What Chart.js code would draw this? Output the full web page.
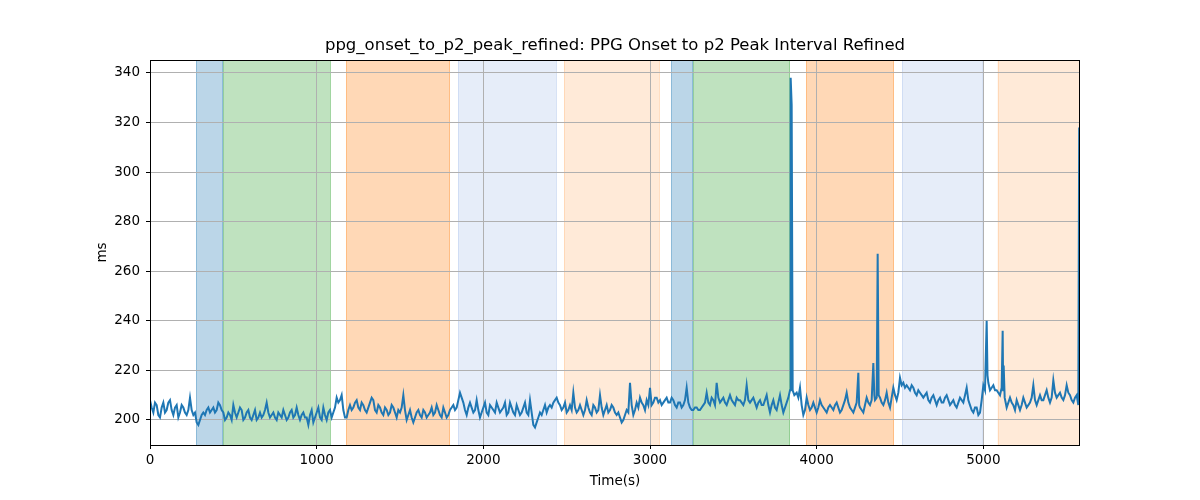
<!DOCTYPE html>
<html>
<head>
<meta charset="utf-8">
<script src="https://cdn.jsdelivr.net/npm/chart.js@4/dist/chart.umd.min.js"></script>
<style>
html,body{margin:0;padding:0;background:#fff;}
#wrap{width:1200px;height:500px;}
</style>
</head>
<body>
<div id="wrap"><canvas id="c" width="1200" height="500"></canvas></div>
<script>
// ---- data ----
const chartTitle = "ppg_onset_to_p2_peak_refined: PPG Onset to p2 Peak Interval Refined";
const xLabel = "Time(s)";
const yLabel = "ms";
const xTicks = [0, 1000, 2000, 3000, 4000, 5000];
const yTicks = [200, 220, 240, 260, 280, 300, 320, 340];

// [time (s), interval (ms)]
const samples = [
[0,208],[10,205],[20,203],[30,207],[40,206],[50,202],[60,201],[70,205],[80,207],[90,203],[100,204],[110,207],[120,208],[130,204],[140,202],[150,205],[160,206],[170,201],[180,203],[190,206],[200,205],[210,203],[220,202],[230,204],[240,209],[250,204],[260,202],[270,203],[280,199],[290,198],[300,200],
[310,202],[320,203],[330,202],[340,204],[350,205],[360,203],[370,204],[380,205],[390,203],[400,204],[410,207],[420,206],[430,204],[440,203],
[450,200],[460,201],[470,203],[480,202],[490,200],[500,206],[510,203],[520,201],[530,203],[540,205],[550,204],[560,200],[570,201],[580,203],[590,204],[600,201],[610,200],[620,202],[630,204],[640,200],[650,201],[660,203],[670,201],[680,202],[690,204],[700,207],[710,203],[720,201],[730,202],[740,203],[750,201],[760,200],[770,203],[780,202],[790,201],[800,204],[810,202],[820,200],[830,201],[840,203],[850,204],[860,201],[870,202],[880,205],[890,202],[900,200],[910,202],[920,203],[930,201],[940,201],[950,198],
[960,202],[970,204],[980,199],[990,201],[1000,203],[1010,205],[1020,201],[1030,200],[1040,205],[1050,202],[1060,200],[1070,203],[1080,204],[1090,201],[1100,203],[1110,205],[1120,209],[1130,207],[1140,208],[1150,210],[1160,204],[1170,201],[1180,201],[1190,204],[1200,206],[1210,204],[1220,205],[1230,207],[1240,208],[1250,205],[1260,204],[1270,207],[1280,206],[1290,204],[1300,203],[1310,205],[1320,207],[1330,209],[1340,208],[1350,204],[1360,203],[1370,206],[1380,205],[1390,203],[1400,202],[1410,205],[1420,204],[1430,202],[1440,203],[1450,206],[1460,205],[1470,203],[1480,201],[1490,204],[1500,203],[1510,205],[1520,210],[1530,204],[1540,200],[1550,202],[1560,204],[1570,201],[1580,199],[1590,201],[1600,203],[1610,204],[1620,202],[1630,201],[1640,204],[1650,203],[1660,201],[1670,202],[1680,203],[1690,205],[1700,202],[1710,203],[1720,206],[1730,204],[1740,202],[1750,201],[1760,205],[1770,203],[1780,201],[1790,202],[1800,204],[1810,205],[1820,206],[1830,204],[1840,205],[1850,208],[1860,211],[1870,209],[1880,207],[1890,204],
[1900,202],[1910,205],[1920,207],[1930,205],[1940,203],[1950,204],[1960,208],[1970,204],[1980,201],[1990,203],[2000,205],[2010,207],[2020,203],[2030,202],[2040,206],[2050,205],[2060,204],[2070,203],[2080,207],[2090,205],[2100,203],[2110,204],[2120,205],[2130,207],[2140,202],[2150,203],[2160,207],[2170,205],[2180,203],[2190,202],[2200,206],[2210,204],[2220,202],[2230,203],[2240,205],[2250,207],[2260,203],[2270,202],[2280,208],[2290,203],[2300,198],[2310,197],[2320,199],[2330,201],[2340,203],[2350,202],[2360,204],[2370,206],[2380,203],[2390,205],[2400,206],[2410,205],[2420,207],[2430,208],[2440,209],[2450,207],[2460,206],[2470,204],[2480,205],[2490,207],[2500,203],[2510,204],[2520,206],[2530,204],[2540,211],[2550,205],[2560,203],[2570,204],[2580,206],[2590,204],[2600,202],[2610,204],[2620,208],[2630,205],[2640,203],[2650,202],[2660,206],[2670,205],[2680,203],[2690,204],[2700,210],[2710,205],[2720,202],[2730,204],[2740,206],[2750,203],[2760,204],[2770,206],[2780,205],[2790,203],[2800,202],[2810,203],[2820,201],
[2830,199],[2840,200],[2850,202],[2860,204],[2870,203],[2880,215],[2890,206],[2900,202],[2910,204],[2920,207],[2930,205],[2940,209],[2950,207],[2960,206],[2970,204],[2980,208],[2990,206],[3000,213],[3010,206],[3020,207],[3030,209],[3040,209],[3050,207],[3060,208],[3070,206],[3080,207],[3090,208],[3100,209],[3110,207],[3120,207],[3130,209],[3140,208],[3150,206],[3160,205],[3170,207],[3180,207],[3190,205],[3200,206],[3210,208],[3220,213],[3230,207],[3240,205],[3250,204],[3260,204],[3270,205],[3280,205],[3290,204],[3300,204],[3310,205],[3320,206],[3330,207],[3340,211],[3350,207],[3360,206],[3370,209],[3380,208],[3390,206],[3400,215],[3410,209],[3420,207],[3430,208],[3440,209],[3450,207],[3460,206],[3470,208],[3480,210],[3490,208],[3500,207],[3510,206],[3520,209],[3530,208],[3540,208],[3550,207],[3560,206],[3570,208],[3580,214],[3590,208],[3600,207],[3610,208],[3620,209],[3630,207],[3640,205],[3650,207],[3660,208],[3670,206],[3680,206],[3690,208],[3700,210],[3710,206],[3720,203],[3730,206],[3740,208],[3750,205],[3760,204],[3770,207],[3780,210],[3790,206],[3800,203],[3810,205],
[3820,207],[3830,209],[3840,212],[3844,338],[3850,327],[3856,212],[3866,210],[3880,211],[3890,209],[3900,213],[3910,206],[3920,202],[3930,204],[3940,209],[3950,206],[3960,204],[3970,205],[3980,207],[3990,205],[4000,203],[4010,205],[4020,208],[4030,206],[4040,205],[4050,204],[4060,203],[4070,205],[4080,206],[4090,205],[4100,204],[4110,206],[4120,207],[4130,205],[4140,203],[4150,204],[4160,206],[4170,208],[4180,211],[4190,207],[4200,205],[4210,204],[4220,203],[4230,205],[4240,207],[4250,219],[4255,206],[4260,205],[4270,204],[4280,203],[4290,206],[4300,209],[4310,207],[4320,206],[4330,208],[4340,223],[4346,210],[4350,208],[4360,209],[4366,267],[4372,210],[4380,209],[4390,207],[4400,206],[4410,208],[4420,211],[4430,207],[4440,205],[4450,209],[4460,213],[4470,210],[4480,208],[4490,211],[4500,217],[4510,214],[4520,215],[4530,213],[4540,214],[4550,213],[4560,212],[4570,214],[4580,213],[4590,211],[4600,210],[4610,212],[4620,211],[4630,210],
[4640,209],[4650,210],[4660,211],[4670,208],[4680,207],[4690,209],[4700,210],[4710,208],[4720,206],[4730,208],[4740,209],[4750,207],[4760,207],[4770,209],[4780,210],[4790,208],[4800,206],[4810,207],[4820,208],[4830,206],[4840,205],[4850,207],[4860,209],[4870,208],[4880,207],[4890,210],[4900,213],[4910,208],[4920,206],[4930,204],[4940,203],[4950,205],[4960,205],[4970,202],[4980,203],[4990,208],[5000,214],[5010,212],[5020,240],[5025,218],[5030,215],[5040,212],[5050,213],[5060,214],[5070,212],[5080,212],[5090,211],[5100,210],[5110,213],[5116,236],[5119,212],[5122,222],[5128,209],[5140,205],[5150,207],[5160,209],[5170,207],[5180,206],[5190,204],[5200,208],[5210,206],[5220,204],[5230,206],[5240,209],[5250,207],[5260,205],[5270,206],[5280,207],[5290,209],[5300,214],[5310,208],[5320,206],[5330,208],[5340,210],[5350,208],[5360,208],[5370,210],[5380,212],[5390,209],[5400,207],[5410,209],[5420,216],[5430,211],[5440,209],[5450,210],[5460,211],[5470,209],[5480,208],[5490,210],[5500,214],[5510,211],[5520,210],[5530,208],[5540,207],[5550,209],[5560,210],[5570,206],[5575,318]
];

// shaded phases
const spanStart = [276, 440, 1176, 1848, 2484, 3126, 3260, 3936, 4512, 5086];
const spanEnd   = [440, 1084, 1800, 2440, 3058, 3260, 3840, 4464, 4996, 5580];
const spanColor = [
  "rgba(31,119,180,0.3)", "rgba(44,160,44,0.3)", "rgba(255,127,14,0.3)", "rgba(31,90,200,0.11)", "rgba(255,127,14,0.16)",
  "rgba(31,119,180,0.3)", "rgba(44,160,44,0.3)", "rgba(255,127,14,0.3)", "rgba(31,90,200,0.11)", "rgba(255,127,14,0.16)"
];

const points = samples.map(s => ({x: s[0], y: s[1]}));
const FONT = "'DejaVu Sans', sans-serif";

const spanPlugin = {
  id: 'spans',
  beforeDraw(chart) {
    const {ctx, chartArea, scales} = chart;
    ctx.save();
    for (let i = 0; i < spanStart.length; i++) {
      const x0 = scales.x.getPixelForValue(spanStart[i]);
      const x1 = scales.x.getPixelForValue(spanEnd[i]);
      ctx.fillStyle = spanColor[i];
      ctx.fillRect(x0, chartArea.top, x1 - x0, chartArea.bottom - chartArea.top);
      ctx.strokeStyle = spanColor[i];
      ctx.lineWidth = 1;
      ctx.beginPath();
      ctx.moveTo(Math.round(x0) + 0.5, chartArea.top); ctx.lineTo(Math.round(x0) + 0.5, chartArea.bottom);
      ctx.moveTo(Math.round(x1) - 0.5, chartArea.top); ctx.lineTo(Math.round(x1) - 0.5, chartArea.bottom);
      ctx.stroke();
    }
    ctx.restore();
  },
  afterDraw(chart) {
    const {ctx, chartArea} = chart;
    ctx.save();
    ctx.strokeStyle = '#000';
    ctx.lineWidth = 1;
    ctx.strokeRect(chartArea.left + 0.5, chartArea.top + 0.5, chartArea.right - chartArea.left - 1, chartArea.bottom - chartArea.top);
    ctx.fillStyle = '#000';
    ctx.textAlign = 'center';
    ctx.textBaseline = 'middle';
    ctx.font = "16.5px " + FONT;
    ctx.fillText(chartTitle, (chartArea.left + chartArea.right) / 2, 46);
    ctx.font = "13.5px " + FONT;
    ctx.fillText(xLabel, (chartArea.left + chartArea.right) / 2, 481);
    ctx.translate(102, (chartArea.top + chartArea.bottom) / 2);
    ctx.rotate(-Math.PI / 2);
    ctx.fillText(yLabel, 0, 0);
    ctx.restore();
  }
};

new Chart(document.getElementById('c'), {
  type: 'line',
  data: {
    datasets: [{
      data: points,
      borderColor: '#1f77b4',
      borderWidth: 2,
      pointRadius: 0,
      tension: 0,
      fill: false
    }]
  },
  options: {
    responsive: false,
    animation: false,
    events: [],
    layout: {padding: {left: 0, right: 120, top: 60, bottom: 0}},
    plugins: {legend: {display: false}, title: {display: false}, tooltip: {enabled: false}},
    scales: {
      x: {
        type: 'linear',
        min: 0, max: 5580,
        afterFit(s) { s.height = 55; },
        afterBuildTicks(s) { s.ticks = xTicks.map(v => ({value: v})); },
        grid: {color: '#b0b0b0', lineWidth: 1, tickColor: '#000', tickLength: 4, drawTicks: true},
        border: {display: false},
        ticks: {color: '#000', font: {family: FONT, size: 13.5}, padding: 3, maxRotation: 0, autoSkip: false,
                callback: v => String(v)}
      },
      y: {
        type: 'linear',
        min: 189.9, max: 345.2,
        afterFit(s) { s.width = 150; },
        afterBuildTicks(s) { s.ticks = yTicks.map(v => ({value: v})); },
        grid: {color: '#b0b0b0', lineWidth: 1, tickColor: '#000', tickLength: 4, drawTicks: true},
        border: {display: false},
        ticks: {color: '#000', font: {family: FONT, size: 13.5}, padding: 6, autoSkip: false,
                callback: v => String(v)}
      }
    }
  },
  plugins: [spanPlugin]
});
</script>
</body>
</html>
